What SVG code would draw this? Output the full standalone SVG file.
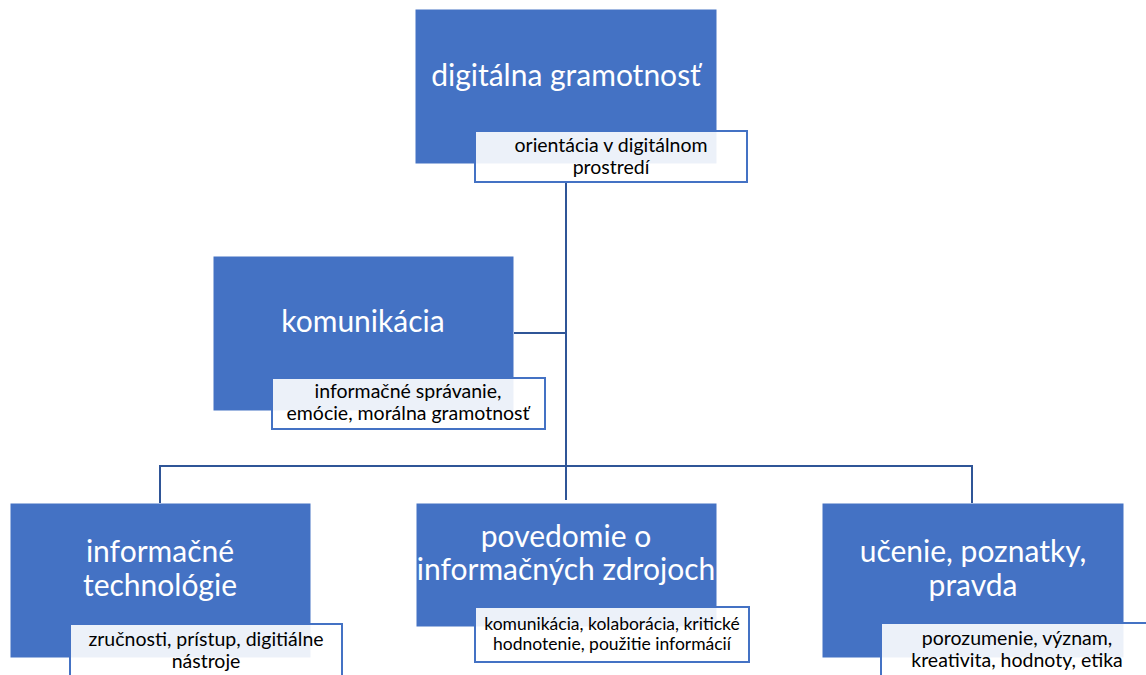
<svg xmlns="http://www.w3.org/2000/svg" width="1146" height="675" viewBox="0 0 1146 675">
<style>
.box{fill:#4472C4;stroke:#4472C4;stroke-width:1}
.lbl{fill:#FFFFFF;fill-opacity:0.9;stroke:#4472C4;stroke-width:2}
.t{font-family:Lato,"Liberation Sans",sans-serif;fill:#FFFFFF;font-size:30px;text-anchor:middle}
.s{font-family:Lato,"Liberation Sans",sans-serif;fill:#000000;font-size:19.5px;text-anchor:middle}
.s2{font-family:Lato,"Liberation Sans",sans-serif;fill:#000000;font-size:17.5px;text-anchor:middle}
.c{fill:none;stroke:#2F5597;stroke-width:2}
</style>
<rect width="1146" height="675" fill="#FFFFFF"/>
<g id="connectors">
<path class="c" d="M566,182 V500"/>
<path class="c" d="M514,333 H566"/>
<path class="c" d="M160,503 V466 H972 V503"/>
</g>
<g id="n-digitalna">
<rect class="box" x="416" y="10" width="300" height="153"/>
<text class="t" x="566" y="86">digitálna gramotnosť</text>
<rect class="lbl" x="475" y="131" width="272" height="51"/>
<text class="s" x="611" y="152">orientácia v digitálnom</text>
<text class="s" x="611" y="174">prostredí</text>
</g>
<g id="n-komunikacia">
<rect class="box" x="214" y="257" width="299" height="153"/>
<text class="t" x="363" y="332">komunikácia</text>
<rect class="lbl" x="272" y="378" width="273" height="51"/>
<text class="s" x="408" y="398">informačné správanie,</text>
<text class="s" x="408" y="420">emócie, morálna gramotnosť</text>
</g>
<g id="n-technologie">
<rect class="box" x="11" y="504" width="299" height="153"/>
<text class="t" x="160" y="562">informačné</text>
<text class="t" x="160" y="596">technológie</text>
<rect class="lbl" x="70" y="624" width="272" height="60"/>
<text class="s" x="206" y="646">zručnosti, prístup, digitiálne</text>
<text class="s" x="206" y="668">nástroje</text>
</g>
<g id="n-povedomie">
<rect class="box" x="417" y="504" width="299" height="122"/>
<text class="t" x="566" y="547">povedomie o</text>
<text class="t" x="566" y="580">informačných zdrojoch</text>
<rect class="lbl" x="475" y="607" width="274" height="55"/>
<text class="s2" x="612" y="630">komunikácia, kolaborácia, kritické</text>
<text class="s2" x="612" y="650">hodnotenie, použitie informácií</text>
</g>
<g id="n-ucenie">
<rect class="box" x="823" y="504" width="300" height="153"/>
<text class="t" x="973" y="562">učenie, poznatky,</text>
<text class="t" x="973" y="596">pravda</text>
<rect class="lbl" x="881" y="623" width="272" height="60"/>
<text class="s" x="1017" y="645">porozumenie, význam,</text>
<text class="s" x="1017" y="667">kreativita, hodnoty, etika</text>
</g>
</svg>
